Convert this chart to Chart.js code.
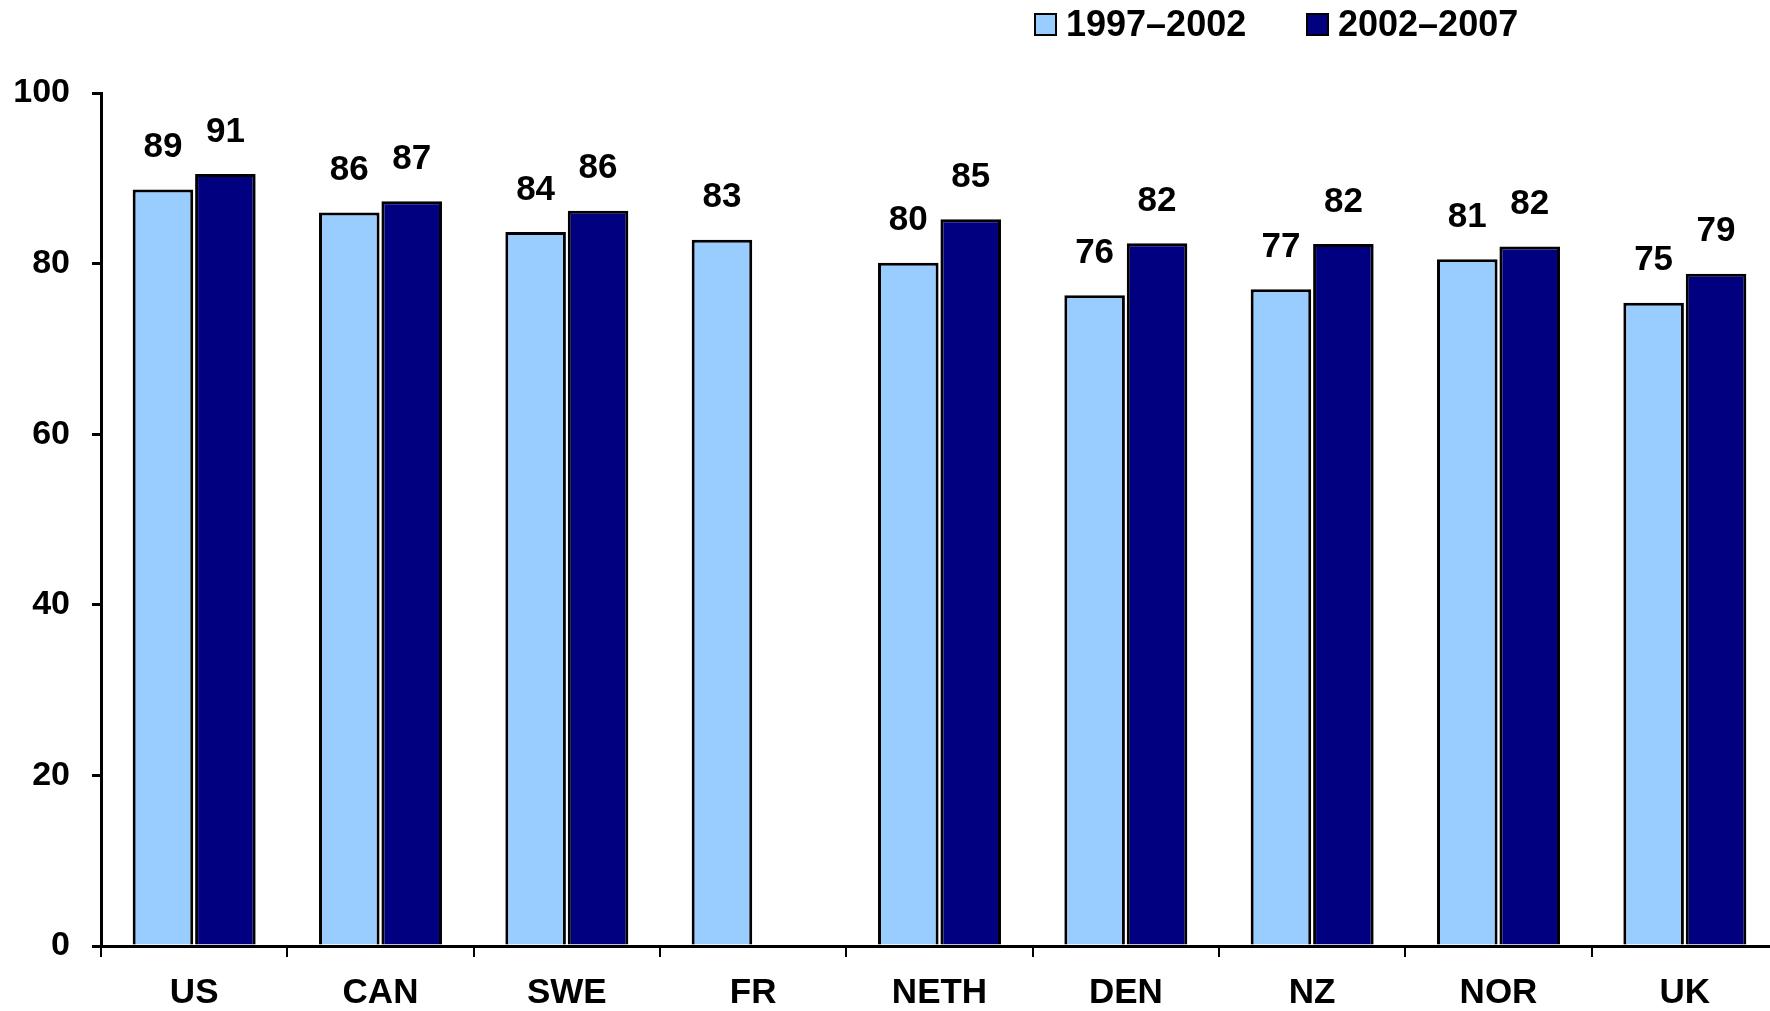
<!DOCTYPE html>
<html lang="en">

<head>
    <meta charset="UTF-8">
    <title>Chart</title>
    <style>
        html, body { margin: 0; background: #fff; overflow: hidden; }
    </style>
</head>

<body>
    <canvas id="barChart" width="1778" height="1011"></canvas>
    <script src="https://cdn.jsdelivr.net/npm/chart.js"></script>
    <script>
        // Dados
        const countries = ['US', 'CAN', 'SWE', 'FR', 'NETH', 'DEN', 'NZ', 'NOR', 'UK'];
        const period1 = [88.7, 86.0, 83.7, 82.8, 80.1, 76.3, 77.0, 80.5, 75.4];   // 1997–2002
        const period2 = [90.5, 87.3, 86.2, null, 85.2, 82.4, 82.3, 82.0, 78.8];   // 2002–2007 (FR sem dado)
        const seriesNames = ['1997–2002', '2002–2007'];
        const yTicks = [0, 20, 40, 60, 80, 100];

        const FONT = '"Liberation Sans", Arial, sans-serif';

        // rótulos de valor acima das barras
        const valueLabels = {
            id: 'valueLabels',
            afterDatasetsDraw(chart) {
                const c = chart.ctx;
                c.save();
                c.font = 'bold 35px ' + FONT;
                c.fillStyle = '#000';
                c.textAlign = 'center';
                c.textBaseline = 'middle';
                chart.data.datasets.forEach((ds, i) => {
                    chart.getDatasetMeta(i).data.forEach((bar, j) => {
                        const v = ds.data[j];
                        if (v === null || v === undefined) return;
                        c.fillText(Math.round(v), bar.x, bar.y - 42);
                    });
                });
                c.restore();
            }
        };

        // legenda no canto superior direito
        const topLegend = {
            id: 'topLegend',
            afterDraw(chart) {
                const c = chart.ctx;
                const starts = [1035, 1307];
                c.save();
                c.font = 'bold 36px ' + FONT;
                c.textBaseline = 'middle';
                chart.data.datasets.forEach((ds, i) => {
                    const x = starts[i];
                    c.fillStyle = ds.backgroundColor;
                    c.fillRect(x, 14, 21, 21);
                    c.strokeStyle = '#000';
                    c.lineWidth = 2;
                    c.strokeRect(x, 14, 21, 21);
                    c.fillStyle = '#000';
                    c.fillText(ds.label, x + 31, 26);
                });
                c.restore();
            }
        };

        const ctx = document.getElementById('barChart').getContext('2d');
        const barChart = new Chart(ctx, {
            type: 'bar',
            data: {
                labels: countries,
                datasets: [{
                    label: seriesNames[0],
                    data: period1,
                    backgroundColor: '#99CCFF',
                    borderColor: '#000',
                    borderWidth: 3,
                    borderSkipped: 'bottom'
                }, {
                    label: seriesNames[1],
                    data: period2,
                    backgroundColor: '#000080',
                    borderColor: '#000',
                    borderWidth: 3,
                    borderSkipped: 'bottom'
                }]
            },
            options: {
                responsive: false,
                animation: false,
                categoryPercentage: 0.67,
                barPercentage: 0.97,
                layout: {
                    padding: { top: 93, right: 0, left: 0, bottom: 0 }
                },
                plugins: {
                    legend: { display: false },
                    tooltip: { enabled: false }
                },
                scales: {
                    x: {
                        afterFit: (scale) => { scale.height = 65; },
                        grid: {
                            offset: true,
                            drawOnChartArea: false,
                            tickLength: 11,
                            color: '#000',
                            lineWidth: 2
                        },
                        border: { color: '#000', width: 3 },
                        ticks: {
                            color: '#000',
                            padding: 15,
                            font: { family: FONT, size: 35, weight: 'bold' }
                        }
                    },
                    y: {
                        min: 0,
                        max: 100,
                        afterFit: (scale) => { scale.width = 101; },
                        afterBuildTicks: (scale) => { scale.ticks = yTicks.map(v => ({ value: v })); },
                        grid: {
                            drawOnChartArea: false,
                            tickLength: 9,
                            color: '#000',
                            lineWidth: 3
                        },
                        border: { color: '#000', width: 3 },
                        ticks: {
                            color: '#000',
                            padding: 22,
                            font: { family: FONT, size: 34, weight: 'bold' }
                        }
                    }
                }
            },
            plugins: [valueLabels, topLegend]
        });
    </script>
</body>

</html>
